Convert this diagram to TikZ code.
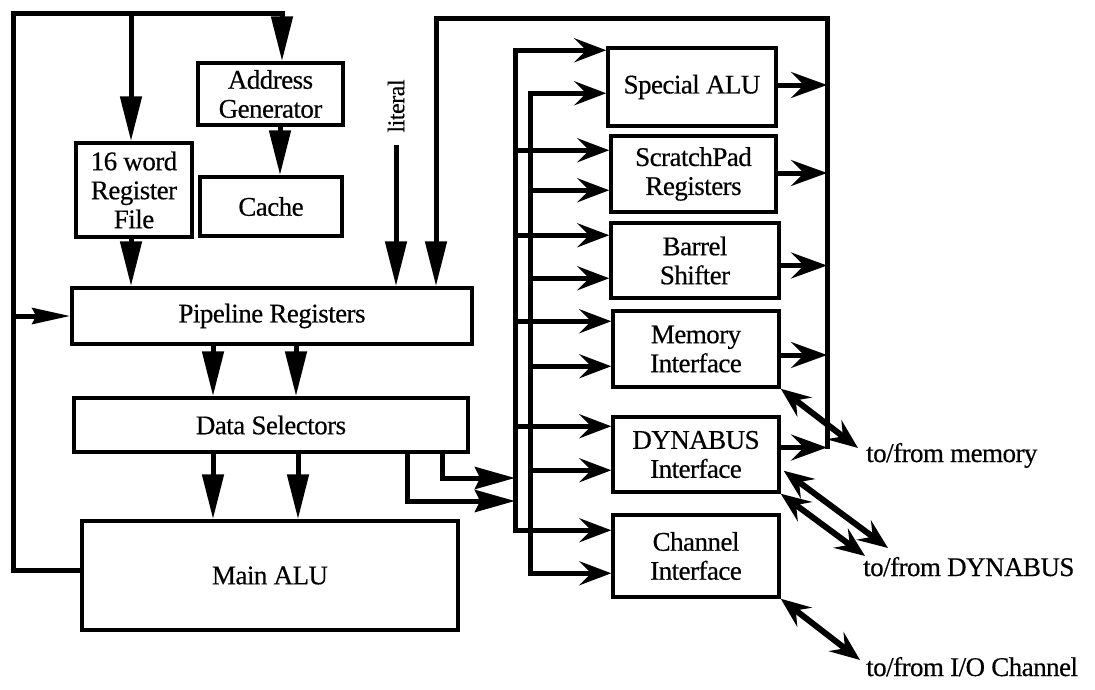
\documentclass[tikz,border=0pt]{standalone}
\usepackage{fontspec}
\setmainfont{Liberation Serif}[LetterSpace=-2.0, FakeBold=0.4]
\usetikzlibrary{arrows.meta,calc}
\begin{document}
\begin{tikzpicture}[x=1pt,y=-1pt,
  box/.style={draw, line width=3.5pt, inner sep=0pt, align=center,
    font=\fontsize{27}{29}\selectfont},
  lbl/.style={inner sep=0pt, font=\fontsize{27}{29}\selectfont},
  conn/.style={line width=5pt},
  varr/.style={conn, -{Triangle[length=45pt,width=21pt]}},
  harr/.style={conn, -{Stealth[length=32pt,width=24pt,inset=12pt]}},
  hharr/.style={conn, {Stealth[length=32pt,width=24pt,inset=12pt]}-{Stealth[length=32pt,width=24pt,inset=12pt]}},
  oarr/.style={conn, -{Stealth[length=36pt,width=26pt,inset=13pt]}},
  dsarr/.style={conn, -{Stealth[length=40pt,width=22pt,inset=5pt]}},
  larr/.style={conn, -{Stealth[length=38pt,width=16pt,inset=4pt]}},
  darr/.style={line width=6pt, {Stealth[length=30pt,width=24pt,inset=11pt]}-{Stealth[length=30pt,width=24pt,inset=11pt]}}
]
\useasboundingbox (0,0) rectangle (1095,689);

% ---- left column boxes ----
\node[box, minimum width=145pt, minimum height=62pt] (addr) at (270.5,94) {Address\\Generator};
\node[box, minimum width=142pt, minimum height=59pt] (cache) at (271,206.5) {Cache};
\node[box, minimum width=116pt, minimum height=94pt] (rf) at (134,190) {16 word\\Register\\File};
\node[box, minimum width=400pt, minimum height=56pt] (pipe) at (272,316) {Pipeline Registers};
\node[box, minimum width=394pt, minimum height=54pt] (ds) at (271,425) {Data Selectors};
\node[box, minimum width=376pt, minimum height=109pt] (alu) at (270,575.5) {Main ALU};
\node[lbl, rotate=90, font=\fontsize{24}{26}\selectfont] (lit) at (396,106) {literal};

% ---- right column boxes ----
\node[box, minimum width=168pt, minimum height=78pt] (sa) at (692,87) {Special ALU};
\node[box, minimum width=165pt, minimum height=76pt] (sp) at (693.5,174) {ScratchPad\\Registers};
\node[box, minimum width=168pt, minimum height=75pt] (bs) at (695,260.5) {Barrel\\Shifter};
\node[box, minimum width=166pt, minimum height=76pt] (mem) at (696,349) {Memory\\Interface};
\node[box, minimum width=166pt, minimum height=75pt] (dyn) at (696,454.5) {DYNABUS\\Interface};
\node[box, minimum width=166pt, minimum height=82pt] (ch) at (696,556) {Channel\\Interface};

% ---- labels ----
\node[lbl, anchor=base west] (lm) at (866,462) {to/from memory};
\node[lbl, anchor=base west] (ld) at (863,576) {to/from DYNABUS};
\node[lbl, anchor=base west] (lc) at (866,676) {to/from I/O Channel};

% ---- helper coordinates ----
\coordinate (tl) at (13,13);
\coordinate (tr) at (282,13);
\coordinate (rfx) at (131,0);
\coordinate (ac) at (280,0);
\coordinate (p1) at (213,0);
\coordinate (p2) at (296,0);
\coordinate (q1) at (213,0);
\coordinate (q2) at (298,0);
\coordinate (fbL) at (436,18);
\coordinate (fbR) at (827,18);
\coordinate (bo) at (515,0);
\coordinate (bi) at (530,0);
\coordinate (d1a) at (442,478);
\coordinate (d2a) at (407,501);
\coordinate (alu-l) at ($(alu.west)+(0,-5)$);

\foreach \b/\o/\i in {sa/4/47, sp/16/56, bs/14/57, mem/12/57, dyn/11/55, ch/17/60} {
  \coordinate (\b-o) at ($(\b.north west)+(0,\o)$);
  \coordinate (\b-i) at ($(\b.north west)+(0,\i)$);
}
\coordinate (sa-r) at ($(sa.east)+(0,-2)$);
\coordinate (sp-r) at ($(sp.east)+(0,-1)$);
\coordinate (bs-r) at ($(bs.east)+(0,5)$);
\coordinate (mem-r) at ($(mem.east)+(0,6)$);
\coordinate (dyn-r) at ($(dyn.east)+(0,-7)$);

\coordinate (memT) at (858,448);
\coordinate (dynA) at ($(dyn.south east)+(3,-23)$);
\coordinate (dynAT) at (888,548);
\coordinate (dynBT) at (865,556);
\coordinate (chT) at (860,660);

% ---- left feedback ----
\draw[varr] (alu-l) -- (alu-l -| tl) -- (tl) -- (tr) -- (tr |- addr.north);
\draw[varr] (rfx |- tl) -- (rfx |- rf.north);
\draw[larr] (tl |- pipe.west) -- (pipe.west);
\draw[varr] (rfx |- rf.south) -- (rfx |- pipe.north);
\draw[varr] (ac |- addr.south) -- (ac |- cache.north);
\draw[varr] ([yshift=-12pt]lit.west) -- (lit.west |- pipe.north);

% ---- pipeline / selectors / alu ----
\draw[varr] (p1 |- pipe.south) -- (p1 |- ds.north);
\draw[varr] (p2 |- pipe.south) -- (p2 |- ds.north);
\draw[varr] (q1 |- ds.south) -- (q1 |- alu.north);
\draw[varr] (q2 |- ds.south) -- (q2 |- alu.north);

% ---- selectors to bus ----
\draw[dsarr] (d1a |- ds.south) -- (d1a) -- (d1a -| bo);
\draw[dsarr] (d2a |- ds.south) -- (d2a) -- (d2a -| bo);

% ---- bus ----
\draw[hharr] (sa-o) -- (sa-o -| bo) -- (ch-o -| bo) -- (ch-o);
\draw[hharr] (sa-i) -- (sa-i -| bi) -- (ch-i -| bi) -- (ch-i);
\foreach \b in {sp,bs,mem,dyn} {
  \draw[harr] (\b-o -| bo) -- (\b-o);
  \draw[harr] (\b-i -| bi) -- (\b-i);
}

% ---- outputs and right feedback ----
\draw[varr] ([yshift=-1pt]dyn-r -| fbR) -- (fbR) -- (fbL) -- (fbL |- pipe.north);
\foreach \b in {sa,sp,bs,mem,dyn} {
  \draw[oarr] (\b-r) -- (\b-r -| fbR);
}

% ---- external connections ----
\draw[darr] (mem.south east) -- (memT);
\draw[darr] (dynA) -- (dynAT);
\draw[darr] (dyn.south east) -- (dynBT);
\draw[darr] (ch.south east) -- (chT);
\end{tikzpicture}
\end{document}
